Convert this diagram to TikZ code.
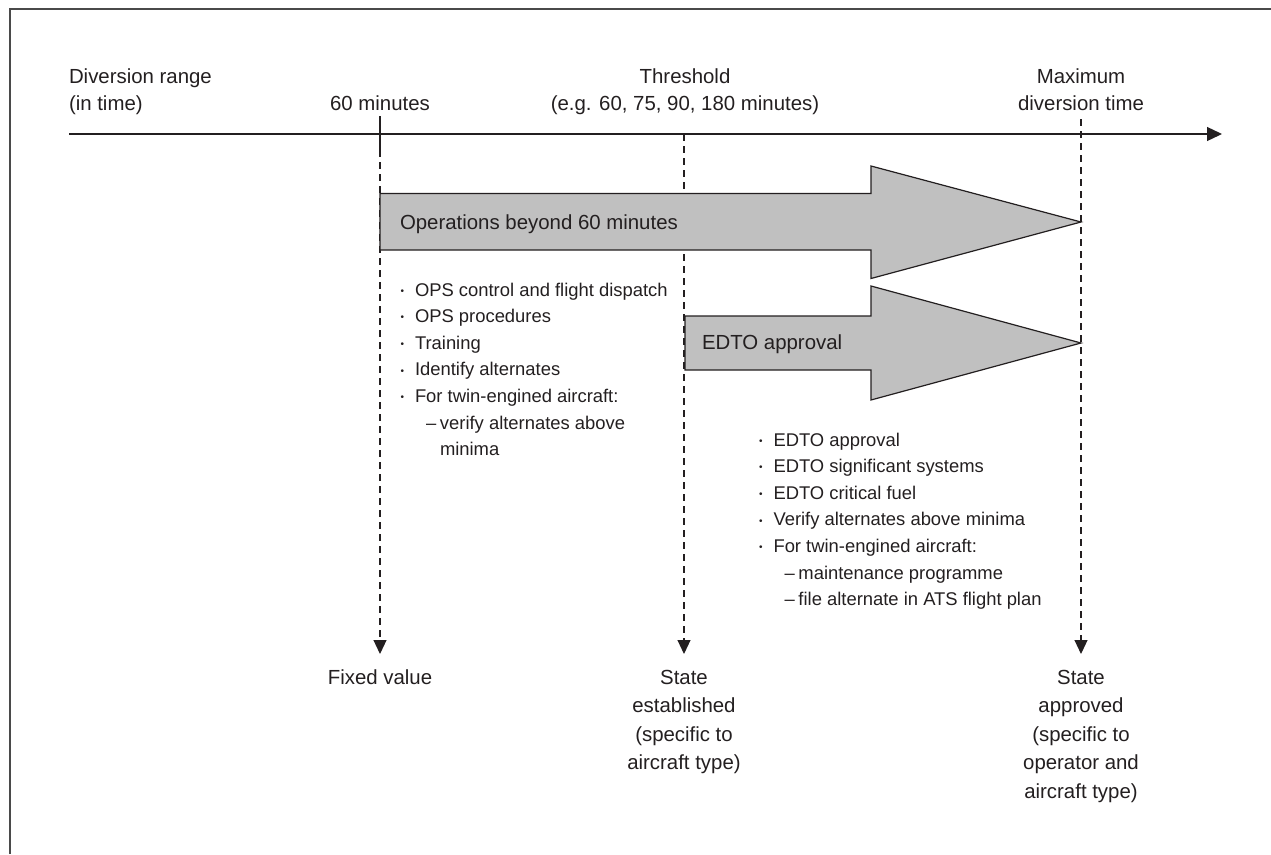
\documentclass[tikz,border=0pt]{standalone}
\usepackage{fontspec}
\setmainfont{Liberation Sans}
\usetikzlibrary{arrows.meta}
\definecolor{ink}{HTML}{231F20}
\definecolor{bandgray}{HTML}{C0C0C0}
\definecolor{framegray}{HTML}{4A4A4A}
\newcommand{\bitem}[1]{\makebox[14.5pt][l]{\raisebox{1.8pt}{\fontsize{10}{10}\selectfont •}}#1}
\newcommand{\ditem}[1]{\hspace*{25.5pt}\makebox[14pt][l]{–}#1}
\begin{document}
\begin{tikzpicture}[x=1pt,y=-1pt,
  lbl/.style={font=\fontsize{20.4}{27}\selectfont, text=ink, inner sep=0pt, outer sep=0pt},
  lblb/.style={font=\fontsize{20.4}{28.5}\selectfont, text=ink, inner sep=0pt, outer sep=0pt},
  lst/.style={font=\fontsize{18.4}{26.6}\selectfont, text=ink, inner sep=0pt, outer sep=0pt, align=left, anchor=north west},
  band/.style={draw=ink, fill=bandgray, line width=1.2pt, line join=miter},
  guide/.style={draw=ink, line width=1.1pt, dash pattern=on 7pt off 5pt},
  guidetip/.style={-{Triangle[length=14pt,width=13pt]}},
]
\useasboundingbox (0,0) rectangle (1271,854);
% frame
\draw[framegray, line width=1.6pt] (10,854) -- (10,9) -- (1271,9);

% time axis
\coordinate (axL) at (69,134);
\coordinate (axR) at (1222,134);
\draw[ink, line width=1.3pt, -{Triangle[length=15pt,width=14pt]}] (axL) -- (axR);

% guide lines
\coordinate (g60top) at (380,116);
\coordinate (g60mid) at (380,150);
\coordinate (g60bot) at (380,654);
\coordinate (gthtop) at (684,134);
\coordinate (gthbot) at (684,654);
\coordinate (gmxtop) at (1081,119);
\coordinate (gmxbot) at (1081,654);
\draw[ink, line width=1.1pt] (g60top) -- (g60mid);
\draw[guide, guidetip] (g60mid) -- (g60bot);
\draw[guide, guidetip] (gthtop) -- (gthbot);
\draw[guide, guidetip] (gmxtop) -- (gmxbot);

% block arrows
\path[band] (380,193.5) -- (871,193.5) -- (871,166) -- (1081,222) -- (871,278.5) -- (871,250) -- (380,250) -- cycle;
\path[band] (685,316) -- (871,316) -- (871,286) -- (1081,343) -- (871,400) -- (871,370) -- (685,370) -- cycle;
\node[lbl, anchor=base west] (opsL) at (400,229) {Operations beyond 60 minutes};
\node[lbl, anchor=base west] (edtoL) at (702,349) {EDTO approval};

% top labels
\node[lbl, anchor=north west, align=left] (divL) at (69,64.1) {\strut Diversion range\\(in time)};
\node[lbl, anchor=base] (l60) at (380,110) {60 minutes};
\node[lbl, anchor=north, align=center] (thrL) at (685,64.1) {\strut Threshold\\(e.g. 60, 75, 90, 180 minutes)};
\node[lbl, anchor=north, align=center] (maxL) at (1081,64.1) {\strut Maximum\\diversion time};

% bottom labels
\node[lblb, anchor=north] (fixL) at (380,664.05) {\strut Fixed value};
\node[lblb, anchor=north, align=center] (estL) at (684,664.05) {\strut State\\established\\(specific to\\aircraft type)};
\node[lblb, anchor=north, align=center] (apprL) at (1081,664.05) {\strut State\\approved\\(specific to\\operator and\\aircraft type)};

% lists
\node[lst] (list1) at (400.5,277.4) {\strut\bitem{OPS control and flight dispatch}\\
\bitem{OPS procedures}\\
\bitem{Training}\\
\bitem{Identify alternates}\\
\bitem{For twin-engined aircraft:}\\
\ditem{verify alternates above}\\
\hspace*{39.5pt}minima};
\node[lst] (list2) at (759,427.4) {\strut\bitem{EDTO approval}\\
\bitem{EDTO significant systems}\\
\bitem{EDTO critical fuel}\\
\bitem{Verify alternates above minima}\\
\bitem{For twin-engined aircraft:}\\
\ditem{maintenance programme}\\
\ditem{file alternate in ATS flight plan}};
\end{tikzpicture}
\end{document}
